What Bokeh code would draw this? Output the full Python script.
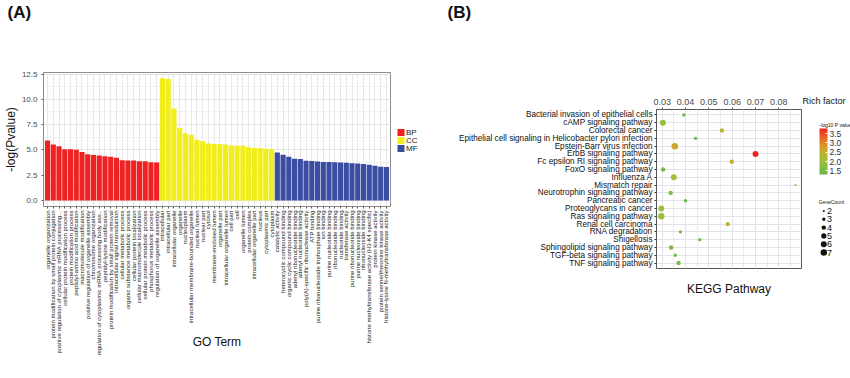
import numpy as np
from bokeh.plotting import figure
from bokeh.models import (ColumnDataSource, FactorRange, Range1d,
                          SingleIntervalTicker, FixedTicker, PrintfTickFormatter,
                          LinearColorMapper, ColorBar, LinearAxis, AllLabels)
from bokeh.layouts import row, column
from bokeh.embed import file_html
from bokeh.resources import INLINE
from bokeh.core.properties import value

FONT = "Liberation Sans"

# ---------------- Panel A data (GO enrichment) ----------------
bp_terms = [
    "organelle organization",
    "protein modification by small protein conjugation",
    "positive regulation of cytoplasmic mRNA processing...",
    "cellular protein modification process",
    "protein modification process",
    "peptidyl-amino acid modification",
    "macromolecule modification",
    "positive regulation of organelle assembly",
    "chromosome organization",
    "regulation of cytoplasmic mRNA processing body ass..",
    "peptidyl-lysine modification",
    "protein modification by small protein removal",
    "intracellular signal transduction",
    "cellular metabolic process",
    "organic substance metabolic process",
    "cellular protein localization",
    "cellular macromolecule localization",
    "cellular protein metabolic process",
    "phosphorus metabolic process",
    "regulation of organelle assembly",
]
bp_values = [5.92, 5.53, 5.36, 5.07, 5.07, 5.00, 4.80, 4.57, 4.50, 4.44,
             4.38, 4.31, 4.21, 3.98, 3.95, 3.95, 3.88, 3.88, 3.78, 3.75]

cc_terms = [
    "intracellular", "intracellular part", "intracellular organelle", "organelle",
    "nucleoplasm", "intracellular membrane-bounded organelle", "nuclear lumen",
    "nuclear part", "cytosol", "membrane-enclosed lumen", "organelle part",
    "intracellular organelle lumen", "cell part", "cell", "organelle lumen",
    "protein complex", "intracellular organelle part", "nucleus",
    "cytoplasmic part", "cytoplasm",
]
cc_values = [12.07, 12.00, 9.10, 7.15, 6.65, 6.50, 6.00, 5.84, 5.64, 5.57,
             5.57, 5.54, 5.44, 5.41, 5.41, 5.25, 5.18, 5.15, 5.11, 5.08]

mf_terms = [
    "catalytic activity", "heterocyclic compound binding", "organic cyclic compound binding",
    "adenyl ribonucleotide binding", "adenyl nucleotide binding",
    "poly(A)-specific ribonuclease activity", "ATP binding",
    "purine ribonucleoside triphosphate binding", "ion binding", "purine nucleotide binding",
    "ribonucleotide binding", "nucleotide binding", "transferase activity",
    "purine ribonucleotide binding", "purine nucleoside binding", "ribonucleoside binding",
    "histone methyltransferase activity (H3-K4 specific)", "protein kinase activity",
    "protein serine/threonine kinase activity", "histone-lysine N-methyltransferase activity",
]
mf_values = [4.75, 4.52, 4.33, 4.13, 4.10, 3.93, 3.90, 3.84, 3.80, 3.80,
             3.77, 3.74, 3.72, 3.67, 3.65, 3.60, 3.54, 3.44, 3.34, 3.31]

group_names = ["BP", "CC", "MF"]
group_colors = ["#EE2222", "#F2EE1E", "#3A4DA0"]

# ---------------- Panel B data (KEGG enrichment) ----------------
kegg_pathways = [
    "Bacterial invasion of epithelial cells", "cAMP signaling pathway", "Colorectal cancer",
    "Epithelial cell signaling in Helicobacter pylori infection", "Epstein-Barr virus infection",
    "ErbB signaling pathway", "Fc epsilon RI signaling pathway", "FoxO signaling pathway",
    "Influenza A", "Mismatch repair", "Neurotrophin signaling pathway", "Pancreatic cancer",
    "Proteoglycans in cancer", "Ras signaling pathway", "Renal cell carcinoma",
    "RNA degradation", "Shigellosis", "Sphingolipid signaling pathway",
    "TGF-beta signaling pathway", "TNF signaling pathway",
]
kegg_rich = [0.0393, 0.0303, 0.0556, 0.0443, 0.0354, 0.0700, 0.0598, 0.0304, 0.0350, 0.0871,
             0.0336, 0.0400, 0.0296, 0.0296, 0.0581, 0.0378, 0.0461, 0.0338, 0.0356, 0.0370]
kegg_count = [3, 6, 4, 3, 7, 6, 4, 4, 6, 2, 4, 3, 6, 7, 4, 3, 3, 4, 3, 4]
kegg_logp = [1.40, 1.90, 2.35, 1.45, 2.60, 3.78, 2.40, 1.55, 2.05, 2.25,
             1.60, 1.30, 1.95, 2.00, 2.45, 1.45, 1.40, 1.60, 1.45, 1.55]

legend_counts = [2, 3, 4, 5, 6, 7]
colorbar_ticks = [1.5, 2.0, 2.5, 3.0, 3.5]
panel_letters = ["(A)", "(B)"]


def count_to_diameter(c):
    # area-proportional size scale: 2 -> 2px, 7 -> 6.5px
    return float(np.sqrt(4.0 + (c - 2) / 5.0 * (6.5 ** 2 - 4.0)))


def interp_palette(anchors, n=256):
    pos = [a[0] for a in anchors]
    cols = [tuple(int(a[1][i:i + 2], 16) for i in (1, 3, 5)) for a in anchors]
    out = []
    for k in range(n):
        t = k / (n - 1)
        j = 0
        while j < len(pos) - 2 and t > pos[j + 1]:
            j += 1
        f = (t - pos[j]) / (pos[j + 1] - pos[j])
        c = [round(cols[j][i] + f * (cols[j + 1][i] - cols[j][i])) for i in range(3)]
        out.append("#%02x%02x%02x" % tuple(c))
    return out


palette = interp_palette([(0.0, "#66b84a"), (0.28, "#9cc03c"), (0.48, "#c2b22c"),
                          (0.68, "#e08a28"), (0.88, "#f04a24"), (1.0, "#f42020")])

HDR_H = 22
MAIN_H = 348
WA, WLA, WB, WL = 391, 42, 369, 48
TOTAL_W = WA + WLA + WB + WL

# ======================= header (panel letters) =======================
hdr = figure(width=TOTAL_W, height=HDR_H, x_range=Range1d(0, TOTAL_W), y_range=Range1d(HDR_H, 0),
             x_axis_type=None, y_axis_type=None, min_border=0, title=None, frame_align=False,
             output_backend="svg", toolbar_location=None)
hdr.grid.visible = False
hdr.outline_line_color = None
hdr.text(x=[7, WA + WLA + 14], y=[2, 2], text=panel_letters, text_font=value(FONT),
         text_font_size="17px", text_font_style="bold", text_align="left",
         text_baseline="top", text_color="#111111")

# ======================= Panel A =======================
all_terms = bp_terms + cc_terms + mf_terms
pA = figure(x_range=FactorRange(factors=all_terms, range_padding=0.2, range_padding_units="absolute"),
            y_range=Range1d(-0.6, 12.65),
            width=WA, height=MAIN_H, title=None, frame_align=False,
            min_border_left=43, min_border_right=1, min_border_top=50, min_border_bottom=164,
            output_backend="svg", toolbar_location=None)

for terms, vals, col in zip([bp_terms, cc_terms, mf_terms], [bp_values, cc_values, mf_values], group_colors):
    src = ColumnDataSource(dict(term=terms, val=vals))
    pA.vbar(x="term", top="val", bottom=0, width=0.9, source=src,
            fill_color=col, line_color=None)

pA.yaxis.axis_label = "-log(Pvalue)"
pA.yaxis.axis_label_text_font = FONT
pA.yaxis.axis_label_text_font_size = "12px"
pA.yaxis.axis_label_text_font_style = "normal"
pA.yaxis.axis_label_text_color = "#111111"
pA.yaxis.axis_label_standoff = 1
pA.yaxis.ticker = SingleIntervalTicker(interval=2.5, num_minor_ticks=2)
pA.yaxis.formatter = PrintfTickFormatter(format="%.1f")
pA.yaxis.major_label_text_font = FONT
pA.yaxis.major_label_text_font_size = "8px"
pA.yaxis.major_label_text_color = "#4d4d4d"
pA.yaxis.major_label_standoff = 2
pA.yaxis.minor_tick_line_color = None
pA.yaxis.major_tick_out = 2
pA.yaxis.major_tick_in = 0
pA.yaxis.major_tick_line_color = "#555555"
pA.yaxis.axis_line_color = None

pA.xaxis.axis_label = "GO Term"
pA.xaxis.axis_label_text_font = FONT
pA.xaxis.axis_label_text_font_size = "12px"
pA.xaxis.axis_label_text_font_style = "normal"
pA.xaxis.axis_label_text_color = "#111111"
pA.xaxis.axis_label_standoff = -24
pA.xaxis.major_label_orientation = np.pi / 2
pA.xaxis.major_label_text_font = FONT
pA.xaxis.major_label_text_font_size = "6px"
pA.xaxis.major_label_text_color = "#1a1a1a"
pA.xaxis.major_label_standoff = 2
pA.xaxis.major_tick_out = 2
pA.xaxis.major_tick_in = 0
pA.xaxis.major_tick_line_color = "#555555"
pA.xaxis.axis_line_color = None

pA.xgrid.grid_line_color = "#e8e8e8"
pA.ygrid.grid_line_color = "#e4e4e4"
pA.ygrid.minor_grid_line_color = "#f0f0f0"
pA.outline_line_color = "#8a8a8a"
pA.outline_line_width = 1

# ======================= Legend strip for panel A =======================
pLA = figure(x_range=Range1d(0, WLA), y_range=Range1d(MAIN_H, 0), x_axis_type=None, y_axis_type=None,
             width=WLA, height=MAIN_H, min_border=0, title=None, frame_align=False,
             output_backend="svg", toolbar_location=None)
pLA.grid.visible = False
pLA.outline_line_color = None
leg_a_y = [110 + 8 * i for i in range(len(group_names))]
pLA.rect(x=[9.5] * len(group_names), y=leg_a_y, width=7, height=7,
         fill_color=group_colors, line_color=None)
pLA.text(x=[14.5] * len(group_names), y=leg_a_y, text=group_names, text_font=value(FONT),
         text_font_size="8px", text_align="left", text_baseline="middle", text_color="#1a1a1a")

# ======================= Panel B =======================
pB = figure(x_range=Range1d(0.02756, 0.0897),
            y_range=FactorRange(factors=kegg_pathways[::-1], range_padding=0.2, range_padding_units="absolute"),
            x_axis_location="above", width=WB, height=MAIN_H, title=None, frame_align=False,
            min_border_left=223, min_border_right=1, min_border_top=87, min_border_bottom=102,
            output_backend="svg", toolbar_location=None)

mapper = LinearColorMapper(palette=palette, low=min(kegg_logp), high=max(kegg_logp))
srcB = ColumnDataSource(dict(pathway=kegg_pathways, rich=kegg_rich, logp=kegg_logp,
                             diam=[count_to_diameter(c) for c in kegg_count]))
pB.scatter(x="rich", y="pathway", size="diam", source=srcB,
           fill_color={"field": "logp", "transform": mapper}, line_color=None)

pB.xaxis.ticker = SingleIntervalTicker(interval=0.01, num_minor_ticks=2)
pB.xaxis.formatter = PrintfTickFormatter(format="%.2f")
pB.xaxis.major_label_text_font = FONT
pB.xaxis.major_label_text_font_size = "9px"
pB.xaxis.major_label_text_color = "#4d4d4d"
pB.xaxis.major_label_standoff = 1
pB.xaxis.minor_tick_line_color = None
pB.xaxis.major_tick_out = 2
pB.xaxis.major_tick_in = 0
pB.xaxis.major_tick_line_color = "#555555"
pB.xaxis.axis_line_color = None

pB.yaxis.major_label_text_font = FONT
pB.yaxis.major_label_text_font_size = "8.2px"
pB.yaxis.major_label_text_color = "#111111"
pB.yaxis.major_label_standoff = 2
pB.yaxis.major_tick_out = 2
pB.yaxis.major_tick_in = 0
pB.yaxis.major_tick_line_color = "#333333"
pB.yaxis.axis_line_color = None

kegg_axis = LinearAxis(axis_label="KEGG Pathway", ticker=FixedTicker(ticks=[]),
                       axis_line_color=None, major_tick_line_color=None, minor_tick_line_color=None,
                       major_label_text_font_size="1px", major_label_text_color=None,
                       axis_label_text_font=FONT, axis_label_text_font_size="12px",
                       axis_label_text_font_style="normal", axis_label_text_color="#111111",
                       axis_label_standoff=13)
pB.add_layout(kegg_axis, "below")

pB.xgrid.grid_line_color = "#e2e2e8"
pB.xgrid.minor_grid_line_color = "#ececf0"
pB.ygrid.grid_line_color = "#e2e2e8"
pB.outline_line_color = "#555555"
pB.outline_line_width = 1

# ======================= Legend strip for panel B =======================
pL = figure(x_range=Range1d(0, WL), y_range=Range1d(MAIN_H, 0), x_axis_type=None, y_axis_type=None,
            width=WL, height=MAIN_H, min_border=0, title=None, frame_align=False,
            output_backend="svg", toolbar_location=None)
pL.grid.visible = False
pL.outline_line_color = None

pL.text(x=[0], y=[78.7], text=["Rich factor"], text_font=value(FONT), text_font_size="9px",
        text_align="left", text_baseline="middle", text_color="#111111")
pL.text(x=[17], y=[102], text=["-log10 P value"], text_font=value(FONT), text_font_size="5px",
        text_align="left", text_baseline="middle", text_color="#111111")
pL.text(x=[16], y=[179], text=["GeneCount"], text_font=value(FONT), text_font_size="5px",
        text_align="left", text_baseline="middle", text_color="#111111")
leg_y = [188.5 + 8.3 * i for i in range(len(legend_counts))]
pL.scatter(x=[21.3] * len(legend_counts), y=leg_y,
           size=[count_to_diameter(c) for c in legend_counts],
           fill_color="#111111", line_color=None)
pL.text(x=[24.5] * len(legend_counts), y=leg_y, text=[str(c) for c in legend_counts],
        text_font=value(FONT), text_font_size="9px",
        text_align="left", text_baseline="middle", text_color="#111111")

cbar = ColorBar(color_mapper=mapper, ticker=FixedTicker(ticks=colorbar_ticks),
                formatter=PrintfTickFormatter(format="%.1f"),
                major_label_policy=AllLabels(),
                orientation="vertical", width=8, height=46,
                location=(17, MAIN_H - 152),
                major_label_text_font=FONT, major_label_text_font_size="8.5px",
                major_label_text_color="#333333", label_standoff=2,
                major_tick_line_color="white", major_tick_in=2, major_tick_out=0,
                bar_line_color=None, border_line_color=None, background_fill_alpha=0,
                padding=0, margin=0)
pL.add_layout(cbar, "center")

layout = column(hdr, row(pA, pLA, pB, pL))
open("out.html", "w").write(file_html(layout, INLINE))
